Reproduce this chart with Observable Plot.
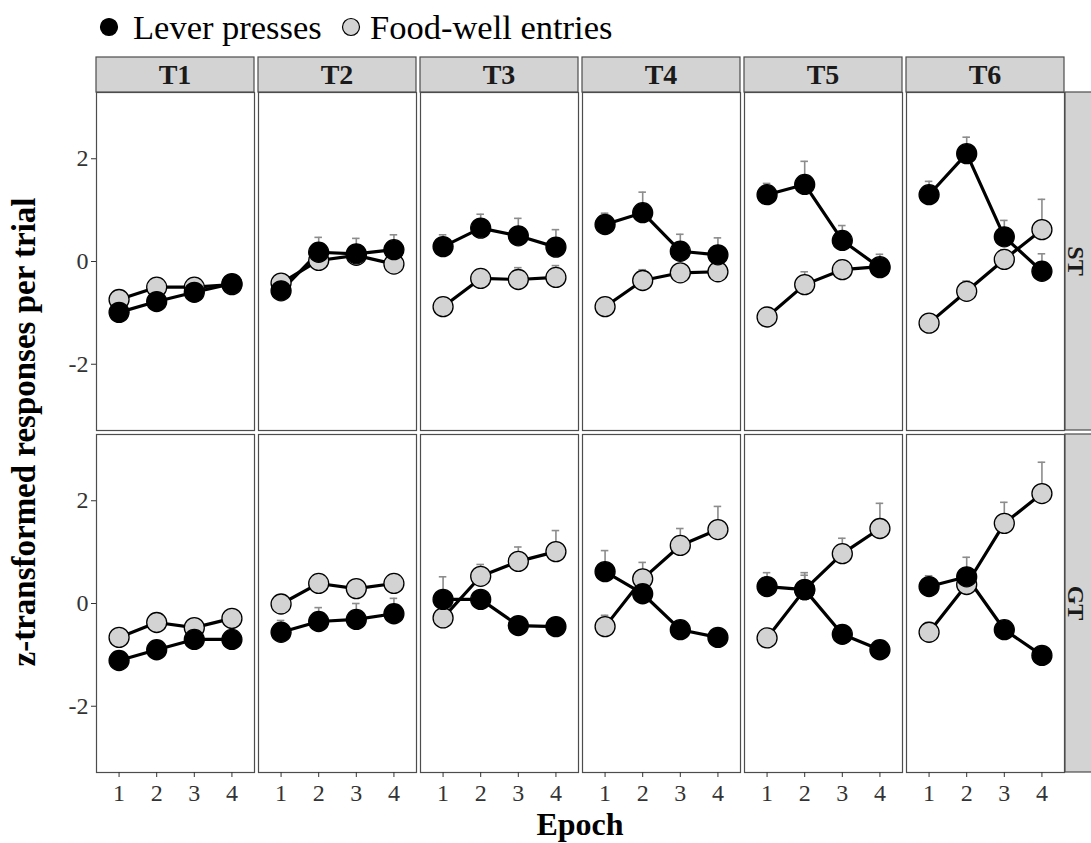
<!DOCTYPE html>
<html><head><meta charset="utf-8">
<script src="https://cdn.jsdelivr.net/npm/d3@7"></script>
<script src="https://cdn.jsdelivr.net/npm/@observablehq/plot@0.6"></script>
<style>body{margin:0;background:#fff}</style>
</head><body><div id="chart"></div>
<script>
const trials = ["T1","T2","T3","T4","T5","T6"];
const groups = ["ST","GT"];
const epochs = [1,2,3,4];
const seriesNames = ["Lever presses","Food-well entries"];
const yTicks = [-2,0,2];

// mean values [trial][epoch]
const leverST = [
  [-0.99,-0.78,-0.60,-0.43],
  [-0.57, 0.18, 0.15, 0.23],
  [ 0.29, 0.65, 0.50, 0.28],
  [ 0.72, 0.95, 0.20, 0.13],
  [ 1.30, 1.50, 0.41,-0.12],
  [ 1.30, 2.10, 0.48,-0.19]
];
const leverSTse = [
  [0.05,0.05,0.05,0.05],
  [0.08,0.29,0.30,0.29],
  [0.23,0.27,0.34,0.34],
  [0.22,0.40,0.33,0.33],
  [0.22,0.45,0.29,0.26],
  [0.26,0.32,0.32,0.34]
];
const foodST = [
  [-0.74,-0.50,-0.50,-0.45],
  [-0.42, 0.02, 0.12,-0.05],
  [-0.88,-0.33,-0.35,-0.31],
  [-0.88,-0.37,-0.22,-0.20],
  [-1.08,-0.45,-0.16,-0.10],
  [-1.20,-0.58, 0.04, 0.62]
];
const foodSTse = [
  [0.05,0.05,0.05,0.05],
  [0.05,0.10,0.10,0.10],
  [0.05,0.15,0.23,0.23],
  [0.05,0.21,0.15,0.15],
  [0.05,0.25,0.18,0.10],
  [0.05,0.20,0.19,0.59]
];
const leverGT = [
  [-1.11,-0.90,-0.70,-0.70],
  [-0.56,-0.35,-0.31,-0.20],
  [ 0.08, 0.08,-0.43,-0.45],
  [ 0.62, 0.19,-0.51,-0.66],
  [ 0.33, 0.27,-0.60,-0.90],
  [ 0.33, 0.52,-0.51,-1.01]
];
const leverGTse = [
  [0.05,0.05,0.05,0.05],
  [0.23,0.27,0.31,0.30],
  [0.44,0.10,0.08,0.08],
  [0.41,0.10,0.08,0.08],
  [0.27,0.33,0.08,0.08],
  [0.21,0.38,0.08,0.08]
];
const foodGT = [
  [-0.66,-0.37,-0.47,-0.29],
  [-0.01, 0.39, 0.29, 0.39],
  [-0.28, 0.53, 0.82, 1.01],
  [-0.45, 0.48, 1.13, 1.44],
  [-0.67, 0.27, 0.97, 1.46],
  [-0.56, 0.37, 1.56, 2.14]
];
const foodGTse = [
  [0.05,0.05,0.05,0.05],
  [0.05,0.05,0.05,0.05],
  [0.10,0.23,0.28,0.41],
  [0.22,0.32,0.33,0.45],
  [0.10,0.28,0.30,0.49],
  [0.19,0.20,0.41,0.61]
];

const table = {
  ST: {lever: [leverST, leverSTse], food: [foodST, foodSTse]},
  GT: {lever: [leverGT, leverGTse], food: [foodGT, foodGTse]}
};
const rows = [];
for (const g of groups) for (const [ti, t] of trials.entries()) for (const [ei, e] of epochs.entries()) {
  for (const [k, name] of [["food", seriesNames[1]], ["lever", seriesNames[0]]]) {
    const [m, s] = table[g][k];
    rows.push({group: g, trial: t, epoch: e, type: name, value: m[ti][ei], se: s[ti][ei]});
  }
}
const food = rows.filter(d => d.type === seriesNames[1]);
const lever = rows.filter(d => d.type === seriesNames[0]);

const FONT = "'Liberation Serif', 'Times New Roman', serif";
const W = 1091, H = 843, mT = 92, mB = 71, mL = 94, mR = 25;
const facetOpts = {fx: "trial", fy: "group"};
const errCol = "#8c8c8c";

const plot = Plot.plot({
  width: W, height: H,
  marginTop: mT, marginBottom: mB, marginLeft: mL, marginRight: mR,
  style: {fontFamily: FONT, fontSize: "24px", color: "#333", background: "#fff"},
  fx: {domain: trials, paddingInner: 0.0245, paddingOuter: 0, axis: null, label: null},
  fy: {domain: groups, paddingInner: 0.0117, paddingOuter: 0, axis: null, label: null},
  x: {domain: [0.4, 4.6], label: null},
  y: {domain: [-3.29, 3.29], label: null},
  marks: [
    Plot.frame({stroke: "#4d4d4d", strokeWidth: 1.2}),
    Plot.ruleX(rows, {...facetOpts, x: "epoch", y1: "value", y2: d => d.value + d.se, stroke: errCol, strokeWidth: 1.6}),
    Plot.ruleY(rows, {...facetOpts, y: d => d.value + d.se, x1: d => d.epoch - 0.1, x2: d => d.epoch + 0.1, stroke: errCol, strokeWidth: 1.6}),
    Plot.line(rows, {...facetOpts, x: "epoch", y: "value", z: "type", stroke: "black", strokeWidth: 3.2}),
    Plot.dot(food, {...facetOpts, x: "epoch", y: "value", r: 10, fill: "#d3d3d3", stroke: "black", strokeWidth: 1.3}),
    Plot.dot(lever, {...facetOpts, x: "epoch", y: "value", r: 10, fill: "black", stroke: "black", strokeWidth: 1.3}),
    Plot.axisY({ticks: yTicks, tickFormat: d => String(d), tickSize: 5, tickPadding: 3, fontSize: 24, label: null}),
    Plot.axisX({ticks: epochs, tickFormat: d => String(d), tickSize: 5, tickPadding: 6, fontSize: 24, label: null})
  ]
});
document.getElementById("chart").appendChild(plot);

const svg = d3.select(plot);
svg.selectAll("g").style("font-family", FONT);
svg.selectAll("text").style("font-family", FONT).style("font-variant", "normal");

let fx, fy;
try { fx = plot.scale("fx"); fy = plot.scale("fy"); } catch (e) {}
const fxPos = t => fx && fx.apply ? fx.apply(t) : mL + trials.indexOf(t) * 162.66;
const fxBw = fx && fx.bandwidth ? fx.bandwidth : 158.7;
const fyPos = g => fy && fy.apply ? fy.apply(g) : mT + groups.indexOf(g) * 342;
const fyBw = fy && fy.bandwidth ? fy.bandwidth : 338;

// facet strips
const strips = svg.append("g").attr("text-anchor", "middle");
const stripTop = 57, stripH = mT - 57;
for (const t of trials) {
  const x0 = fxPos(t);
  strips.append("rect").attr("x", x0).attr("y", stripTop).attr("width", fxBw).attr("height", stripH)
    .attr("fill", "#d3d3d3").attr("stroke", "#4d4d4d").attr("stroke-width", 1.2);
  strips.append("text").attr("x", x0 + fxBw / 2).attr("y", stripTop + stripH / 2)
    .attr("dominant-baseline", "central")
    .attr("font-family", FONT).attr("font-weight", "bold").attr("font-size", 28).attr("fill", "#1a1a1a").text(t);
}
const rx = fxPos(trials[trials.length - 1]) + fxBw + 1;
for (const g of groups) {
  const y0 = fyPos(g);
  strips.append("rect").attr("x", rx).attr("y", y0).attr("width", stripH + 10).attr("height", fyBw)
    .attr("fill", "#d3d3d3").attr("stroke", "#4d4d4d").attr("stroke-width", 1.2);
  strips.append("text").attr("transform", `translate(${rx + 11},${y0 + fyBw / 2}) rotate(90)`)
    .attr("dominant-baseline", "central")
    .attr("font-family", FONT).attr("font-weight", "bold").attr("font-size", 24).attr("fill", "#1a1a1a").text(g);
}

// axis titles
const yMid = (fyPos(groups[0]) + fyPos(groups[1]) + fyBw) / 2;
svg.append("text").attr("transform", `translate(35,${yMid}) rotate(-90)`)
  .attr("text-anchor", "middle").attr("font-family", FONT).attr("font-weight", "bold")
  .attr("font-size", 33).attr("fill", "black").text("z-transformed responses per trial");
const xMid = (fxPos(trials[0]) + fxPos(trials[trials.length - 1]) + fxBw) / 2;
svg.append("text").attr("x", xMid).attr("y", 835)
  .attr("text-anchor", "middle").attr("font-family", FONT).attr("font-weight", "bold")
  .attr("font-size", 32).attr("fill", "black").text("Epoch");

// legend
const lg = svg.append("g").attr("font-family", FONT).attr("font-size", 34.5).attr("text-anchor", "start");
const legItems = [
  {name: seriesNames[0], fill: "black", cx: 109, tx: 133},
  {name: seriesNames[1], fill: "#d3d3d3", cx: 351, tx: 370}
];
for (const it of legItems) {
  lg.append("circle").attr("cx", it.cx).attr("cy", 27).attr("r", 8.5)
    .attr("fill", it.fill).attr("stroke", "black").attr("stroke-width", 1.2);
  lg.append("text").attr("x", it.tx).attr("y", 39).attr("text-anchor", "start")
    .attr("fill", "black").text(it.name);
}
</script>
</body></html>
